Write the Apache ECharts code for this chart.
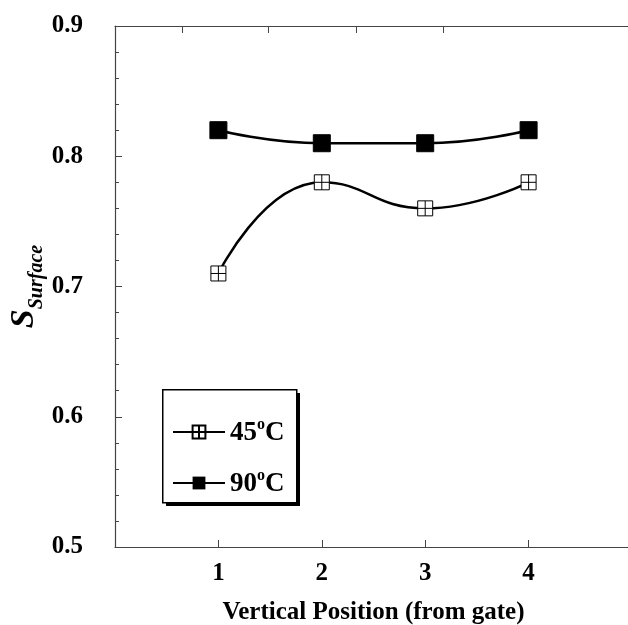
<!DOCTYPE html>
<html>
<head>
<meta charset="utf-8">
<script src="https://cdn.jsdelivr.net/npm/echarts@6/dist/echarts.min.js"></script>
<style>
  body { margin: 0; background: #fff; }
  #chart { width: 628px; height: 625px; }
</style>
</head>
<body>
<div id="chart"></div>
<script>
// positions along the gate and surface values
var positions = [1, 2, 3, 4];
var s45 = [0.71, 0.78, 0.76, 0.78];
var s90 = [0.82, 0.81, 0.81, 0.82];
var xTickLabels = ['1', '2', '3', '4'];
var topTicks = [0.65, 1.48, 2.33, 3.17];

var font = 'Liberation Serif';
var axisCol = '#444';

function pairs(ys) {
  return positions.map(function (x, i) { return [x, ys[i]]; });
}

var chart = echarts.init(document.getElementById('chart'));
chart.setOption({
  animation: false,
  grid: { left: 115, top: 26, right: -4, bottom: 78, outerBoundsMode: 'none' },
  // legend frame with drop shadow
  graphic: [{
    type: 'rect', left: 166, top: 393, z: 10,
    shape: { width: 134, height: 113 },
    style: { fill: '#000' }
  }, {
    type: 'rect', left: 162, top: 389, z: 11,
    shape: { width: 134, height: 113 },
    style: { fill: '#fff', stroke: '#000', lineWidth: 1.5 }
  }],
  legend: {
    left: 163, top: 390, z: 20,
    orient: 'vertical',
    itemWidth: 52, itemHeight: 16, itemGap: 16,
    padding: [22, 6, 6, 9],
    data: ['45', '90'],
    formatter: function (n) { return '{t|' + n + '}{sup|o}{t|C}'; },
    textStyle: {
      rich: {
        t: { fontFamily: font, fontWeight: 'bold', fontSize: 27, color: '#000', lineHeight: 30, verticalAlign: 'bottom', padding: [8, 0, 0, 0] },
        sup: { fontFamily: font, fontWeight: 'bold', fontSize: 16, color: '#000', lineHeight: 30, verticalAlign: 'top', padding: [0, 0, 4, 0] }
      }
    }
  },
  xAxis: [{
    type: 'value', min: 0, max: 5, interval: 1,
    name: 'Vertical Position (from gate)',
    nameLocation: 'middle', nameGap: 53,
    nameTextStyle: { fontFamily: font, fontWeight: 'bold', fontSize: 25, color: '#000' },
    axisLine: { lineStyle: { color: axisCol, width: 1.2 } },
    axisTick: { inside: true, length: 7, lineStyle: { color: axisCol } },
    splitLine: { show: false },
    axisLabel: {
      margin: 14, fontFamily: font, fontWeight: 'bold', fontSize: 25, color: '#000',
      formatter: function (v) { return (v >= 1 && v <= 4) ? xTickLabels[v - 1] : ''; }
    }
  }, {
    type: 'value', min: 0, max: 5, position: 'top',
    axisLine: { lineStyle: { color: axisCol, width: 1.2 } },
    axisTick: { inside: true, length: 7, customValues: topTicks, lineStyle: { color: axisCol } },
    axisLabel: { show: false },
    splitLine: { show: false }
  }],
  yAxis: {
    type: 'value', min: 0.5, max: 0.9, interval: 0.1,
    name: '{s|S}{sub|Surface}',
    nameLocation: 'middle', nameGap: 68, nameRotate: 90,
    nameMoveOverlap: false,
    nameTextStyle: {
      rich: {
        s: { fontFamily: font, fontWeight: 'bold', fontStyle: 'italic', fontSize: 34, color: '#000', lineHeight: 40, verticalAlign: 'top' },
        sub: { fontFamily: font, fontWeight: 'bold', fontStyle: 'italic', fontSize: 20, color: '#000', lineHeight: 40, verticalAlign: 'bottom', padding: [20, 0, 0, 0] }
      }
    },
    axisLine: { show: true, lineStyle: { color: axisCol, width: 1.2 } },
    axisTick: { inside: true, length: 7, lineStyle: { color: axisCol } },
    minorTick: { show: true, splitNumber: 5, length: 4, lineStyle: { color: axisCol } },
    splitLine: { show: false },
    axisLabel: {
      margin: 32, fontFamily: font, fontWeight: 'bold', fontSize: 25, color: '#000',
      formatter: function (v) { return v.toFixed(1); }
    }
  },
  series: [{
    name: '45', type: 'line', smooth: 0.5,
    data: pairs(s45),
    symbol: 'path://M0,0H10V10H0Z M5,0V10 M0,5H10',
    symbolSize: 15,
    itemStyle: { color: '#fff', borderColor: '#000', borderWidth: 1 },
    lineStyle: { color: '#000', width: 2.5 },
    z: 3
  }, {
    name: '90', type: 'line', smooth: 0.5,
    data: pairs(s90),
    symbol: 'rect', symbolSize: 17,
    itemStyle: { color: '#000', borderColor: '#000' },
    lineStyle: { color: '#000', width: 2.5 },
    z: 4
  }]
});
</script>
</body>
</html>
